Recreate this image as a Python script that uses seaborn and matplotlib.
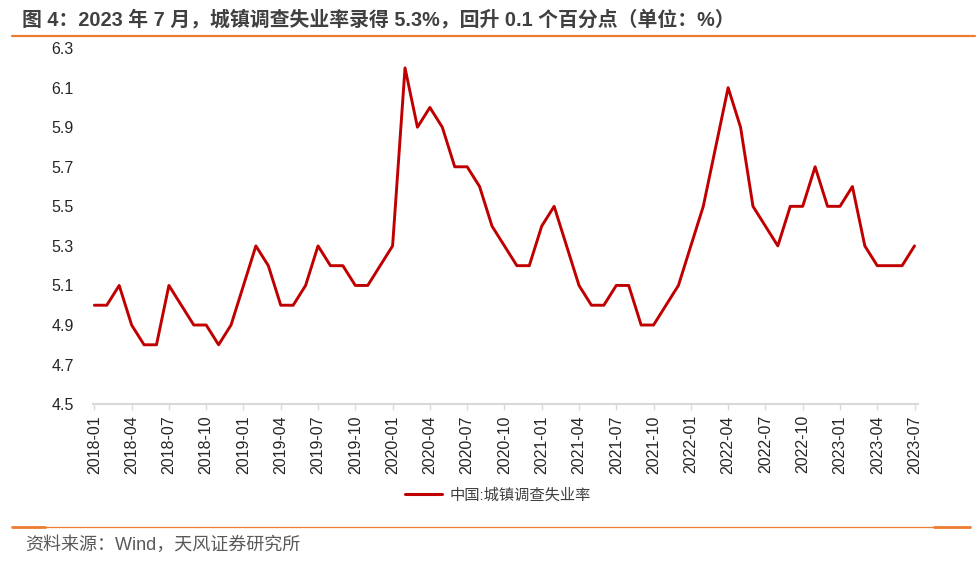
import matplotlib
matplotlib.use('Agg')

import numpy as np
import pandas as pd
import matplotlib.pyplot as plt
from matplotlib.lines import Line2D
import seaborn as sns

# monthly surveyed urban unemployment rate, 2018-01 .. 2023-07
months = pd.period_range('2018-01', '2023-07', freq='M').strftime('%Y-%m').tolist()
rate = [
    5.0, 5.0, 5.1, 4.9, 4.8, 4.8, 5.1, 5.0, 4.9, 4.9, 4.8, 4.9,  # 2018
    5.1, 5.3, 5.2, 5.0, 5.0, 5.1, 5.3, 5.2, 5.2, 5.1, 5.1, 5.2,  # 2019
    5.3, 6.2, 5.9, 6.0, 5.9, 5.7, 5.7, 5.6, 5.4, 5.3, 5.2, 5.2,  # 2020
    5.4, 5.5, 5.3, 5.1, 5.0, 5.0, 5.1, 5.1, 4.9, 4.9, 5.0, 5.1,  # 2021
    5.3, 5.5, 5.8, 6.1, 5.9, 5.5, 5.4, 5.3, 5.5, 5.5, 5.7, 5.5,  # 2022
    5.5, 5.6, 5.3, 5.2, 5.2, 5.2, 5.3,                           # 2023
]
y_ticks = [4.5, 4.7, 4.9, 5.1, 5.3, 5.5, 5.7, 5.9, 6.1, 6.3]
series_name = '中国:城镇调查失业率'
title = '图 4：2023 年 7 月，城镇调查失业率录得 5.3%，回升 0.1 个百分点（单位：%）'
source = '资料来源：Wind，天风证券研究所'

df = pd.DataFrame({'pos': np.arange(len(months)), 'month': months, 'rate': rate})

sns.set_theme(style='white')
plt.rcParams['font.family'] = ['Liberation Sans', 'Noto Sans CJK SC', 'DejaVu Sans']

orange = '#ed7d31'
red = '#c00000'

fig = plt.figure(figsize=(9.8, 5.66), dpi=100)
ax = fig.add_axes([0.095, 0.286, 0.842, 0.629])

sns.lineplot(data=df, x='pos', y='rate', ax=ax, color=red, linewidth=2.1,
             label=series_name, legend=False)

ax.set_xlim(-0.1, len(months) - 0.7)
ax.set_ylim(4.5, 6.3)
ax.set_yticks(y_ticks)
ax.set_yticklabels([f'{v:.1f}' for v in y_ticks], fontsize=11.5, color='#262626')
tick_pos = df['pos'][::3]
ax.set_xticks(tick_pos)
ax.set_xticklabels(df['month'][::3], rotation=90, fontsize=11.5, color='#262626')
ax.set_xlabel('')
ax.set_ylabel('')

for side in ['top', 'right', 'left']:
    ax.spines[side].set_visible(False)
ax.spines['bottom'].set_color('#d9d9d9')
ax.spines['bottom'].set_linewidth(1.5)
ax.tick_params(axis='x', bottom=True, length=4, width=1, color='#d9d9d9', pad=4)
ax.tick_params(axis='y', left=False, pad=8)
ax.grid(False)

handles = [Line2D([], [], color=red, linewidth=2.2)]
fig.legend(handles, [series_name], loc='center', bbox_to_anchor=(0.508, 0.125),
           frameon=False, fontsize=11, handlelength=2.4, handletextpad=0.5,
           labelcolor='#404040')

fig.text(0.022, 0.965, title, fontsize=14.3, fontweight='bold', color='#404040',
         va='center', ha='left')
fig.text(0.026, 0.037, source, fontsize=13, color='#595959', va='center', ha='left')

# orange rules above and below the chart
fig.add_artist(Line2D([0.012, 0.995], [0.937, 0.937], color=orange, linewidth=1.6,
                      transform=fig.transFigure))
fig.add_artist(Line2D([0.012, 0.99], [0.069, 0.069], color=orange, linewidth=0.9,
                      transform=fig.transFigure))
fig.add_artist(Line2D([0.012, 0.046], [0.069, 0.069], color=orange, linewidth=2,
                      transform=fig.transFigure))
fig.add_artist(Line2D([0.953, 0.99], [0.069, 0.069], color=orange, linewidth=2,
                      transform=fig.transFigure))

fig.savefig('out.png', dpi=100)
plt.close(fig)
